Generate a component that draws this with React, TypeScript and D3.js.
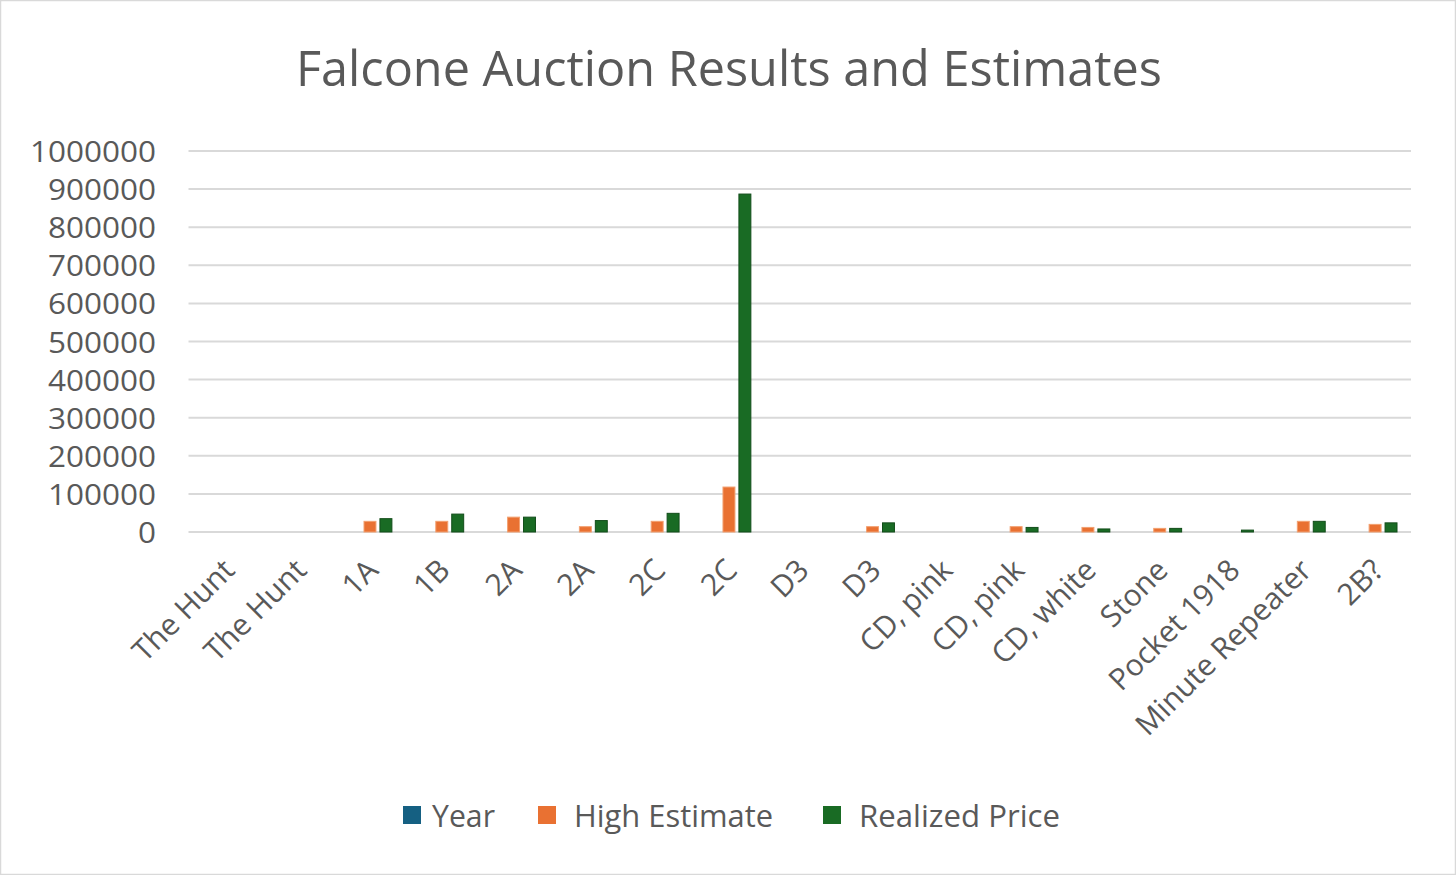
import { useEffect, useRef } from 'react';
import * as d3 from 'd3';

const categories = [
  'The Hunt', 'The Hunt', '1A', '1B', '2A', '2A', '2C', '2C', 'D3', 'D3',
  'CD, pink', 'CD, pink', 'CD, white', 'Stone', 'Pocket 1918', 'Minute Repeater', '2B?',
];
const yearValues = [0, 0, 0, 0, 0, 0, 0, 0, 0, 0, 0, 0, 0, 0, 0, 0, 0];
const highEstimate = [0, 0, 28000, 28000, 39000, 14000, 28000, 118000, 0, 14000, 0, 14000, 12000, 9500, 0, 28000, 20000];
const realizedPrice = [0, 0, 35000, 47000, 39000, 30000, 49000, 887000, 0, 24000, 0, 12000, 8000, 9500, 5000, 28000, 24000];
const yTicks = [0, 100000, 200000, 300000, 400000, 500000, 600000, 700000, 800000, 900000, 1000000];
const seriesNames = ['Year', 'High Estimate', 'Realized Price'];
const seriesColors = ['#156082', '#E97132', '#196B24'];

const W = 1456;
const H = 875;
const FONT = '"Open Sans", "Liberation Sans", sans-serif';
const GREY = '#595959';

export default function App() {
  const svgRef = useRef<SVGSVGElement>(null);

  useEffect(() => {
    document.body.style.margin = '0';
    if (!svgRef.current) return;
    const svg = d3.select(svgRef.current);
    svg.selectAll('*').remove();

    svg.append('rect')
      .attr('x', 0.5).attr('y', 0.5)
      .attr('width', W - 1).attr('height', H - 1)
      .attr('fill', '#fff').attr('stroke', '#d9d9d9').attr('stroke-width', 1.5);

    // 제목
    svg.append('text')
      .attr('x', 729).attr('y', 86)
      .attr('text-anchor', 'middle')
      .attr('textLength', 866).attr('lengthAdjust', 'spacingAndGlyphs')
      .style('font-family', FONT).style('font-size', '50px').style('fill', GREY)
      .text('Falcone Auction Results and Estimates');

    const left = 190.5;
    const right = 1411;
    const top = 151;
    const bottom = 532;

    const x = d3.scaleBand().domain(categories.map((_, i) => String(i))).range([left, right]).padding(0);
    const y = d3.scaleLinear().domain([0, 1000000]).range([bottom, top]);
    const inner = d3.scaleBand().domain(seriesNames).range([12, x.bandwidth() - 12]).paddingInner(0.25).paddingOuter(0.125);

    // 그리드
    svg.append('g')
      .selectAll('line')
      .data(yTicks)
      .enter()
      .append('line')
      .attr('x1', left - 2).attr('x2', right)
      .attr('y1', (d) => y(d)).attr('y2', (d) => y(d))
      .attr('stroke', '#d9d9d9').attr('stroke-width', 2);

    // Y축 레이블
    svg.append('g')
      .selectAll('text')
      .data(yTicks)
      .enter()
      .append('text')
      .attr('x', 156).attr('y', (d) => y(d) + 11)
      .attr('text-anchor', 'end')
      .attr('textLength', (d) => String(d).length * 18)
      .attr('lengthAdjust', 'spacingAndGlyphs')
      .style('font-family', FONT).style('font-size', '30px').style('fill', GREY)
      .text((d) => String(d));

    // 바 차트
    const series = [yearValues, highEstimate, realizedPrice];
    const bars = svg.append('g');
    series.forEach((vals, s) => {
      bars.append('g')
        .selectAll('rect')
        .data(vals.map((v, i) => ({ v, i })).filter((d) => d.v > 0))
        .enter()
        .append('rect')
        .attr('x', (d) => (x(String(d.i)) || 0) + (inner(seriesNames[s]) || 0))
        .attr('y', (d) => y(d.v))
        .attr('width', inner.bandwidth())
        .attr('height', (d) => bottom - y(d.v))
        .attr('fill', seriesColors[s])
        .attr('stroke', s === 1 ? '#f2a070' : '#124d1a')
        .attr('stroke-width', 1);
    });

    // X축 레이블
    svg.append('g')
      .selectAll('text')
      .data(categories)
      .enter()
      .append('text')
      .attr('text-anchor', 'end')
      .attr('transform', (_, i) => {
        const cx = (x(String(i)) || 0) + x.bandwidth() / 2 + 10;
        return `translate(${cx},572) rotate(-45)`;
      })
      .style('font-family', FONT).style('font-size', '30px').style('fill', GREY)
      .text((d) => d);

    // 범례
    const legendX = [403, 538, 823];
    const legendW = [63, 199, 201];
    const legend = svg.append('g');
    seriesNames.forEach((name, i) => {
      legend.append('rect')
        .attr('x', legendX[i]).attr('y', 806)
        .attr('width', 18).attr('height', 18)
        .attr('fill', seriesColors[i]);
      legend.append('text')
        .attr('x', legendX[i] + (i === 0 ? 29 : 36)).attr('y', 827)
        .attr('textLength', legendW[i]).attr('lengthAdjust', 'spacingAndGlyphs')
        .style('font-family', FONT).style('font-size', '31px').style('fill', GREY)
        .text(name);
    });
  }, []);

  return <svg ref={svgRef} width={W} height={H} style={{ display: 'block' }}></svg>;
}
